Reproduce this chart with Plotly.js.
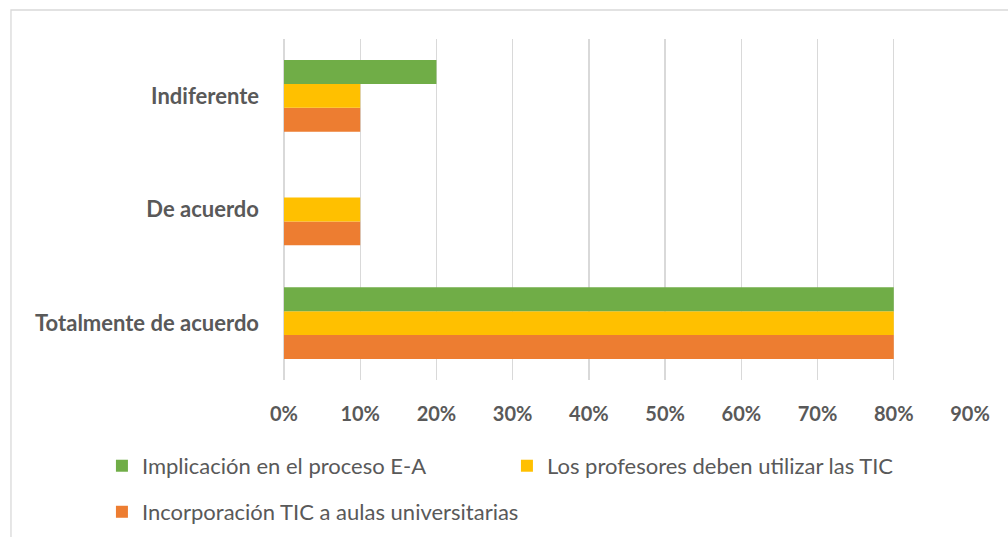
<!DOCTYPE html>
<html>
<head>
<meta charset="utf-8">
<script src="https://cdn.plot.ly/plotly-3.0.1.min.js"></script>
<style>
  html, body { margin: 0; padding: 0; background: #ffffff; }
  #chart { width: 1008px; height: 537px; }
</style>
</head>
<body>
<div id="chart"></div>
<script>
  // Categories listed bottom to top, as the y axis stacks them.
  var categories = ["Totalmente de acuerdo", "De acuerdo", "Indiferente"];

  var seriesNames = [
    "Incorporación TIC a aulas universitarias",
    "Los profesores deben utilizar las TIC",
    "Implicación en el proceso E-A"
  ];
  var incorporacion = [0.80, 0.10, 0.10];
  var profesores = [0.80, 0.10, 0.10];
  var implicacion = [0.80, 0.00, 0.20];

  var tickValues = [0, 0.1, 0.2, 0.3, 0.4, 0.5, 0.6, 0.7, 0.8, 0.9];

  var TEXT = "#595959";
  var GRID = "#d9d9d9";
  var FONT = "Lato, 'Open Sans', sans-serif";

  function bar(name, values, color, legendId) {
    return {
      type: "bar",
      orientation: "h",
      name: name,
      y: categories,
      x: values,
      marker: { color: color, line: { width: 0 } },
      legend: legendId,
      hoverinfo: "skip"
    };
  }

  // Trace order sets the bottom-to-top order inside each group.
  var traces = [
    bar(seriesNames[0], incorporacion, "#ED7D31", "legend2"),
    bar(seriesNames[1], profesores, "#FFC000", "legend"),
    bar(seriesNames[2], implicacion, "#70AD47", "legend")
  ];

  var legendFont = { family: FONT, size: 22, color: TEXT };

  var layout = {
    width: 1008,
    height: 537,
    paper_bgcolor: "#ffffff",
    plot_bgcolor: "#ffffff",
    margin: { l: 284, r: 38, t: 39, b: 157, autoexpand: false },
    barmode: "group",
    bargap: 0.37,
    bargroupgap: 0,
    font: { family: FONT, color: TEXT },
    xaxis: {
      range: [0, 0.9],
      tickvals: tickValues,
      tickformat: ".0%",
      showgrid: true,
      gridcolor: GRID,
      gridwidth: 1.3,
      zeroline: true,
      zerolinecolor: GRID,
      zerolinewidth: 1.3,
      showline: false,
      ticks: "",
      ticklabelstandoff: 20,
      tickfont: { family: FONT, size: 20, color: TEXT, weight: "bold" },
      automargin: false,
      fixedrange: true
    },
    yaxis: {
      type: "category",
      categoryorder: "array",
      categoryarray: categories,
      showgrid: false,
      zeroline: false,
      showline: false,
      ticks: "",
      ticklabelstandoff: 24,
      tickfont: { family: FONT, size: 22, color: TEXT, weight: "bold" },
      automargin: false,
      fixedrange: true
    },
    showlegend: true,
    legend: {
      orientation: "h",
      traceorder: "reversed",
      x: -0.2654,
      xanchor: "left",
      y: -0.252,
      yanchor: "middle",
      entrywidth: 360,
      entrywidthmode: "pixels",
      itemwidth: 30,
      font: legendFont,
      bgcolor: "rgba(0,0,0,0)"
    },
    legend2: {
      orientation: "h",
      x: -0.2654,
      xanchor: "left",
      y: -0.387,
      yanchor: "middle",
      itemwidth: 30,
      font: legendFont,
      bgcolor: "rgba(0,0,0,0)"
    },
    // Outer chart frame (its right and bottom edges fall outside the picture).
    shapes: [
      {
        type: "rect",
        xref: "paper",
        yref: "paper",
        x0: -0.398,
        x1: 1.2,
        y0: -0.7,
        y1: 1.085,
        line: { color: GRID, width: 1.3 },
        fillcolor: "rgba(0,0,0,0)",
        layer: "below"
      }
    ]
  };

  Plotly.newPlot("chart", traces, layout, { displayModeBar: false, staticPlot: true });
</script>
</body>
</html>
